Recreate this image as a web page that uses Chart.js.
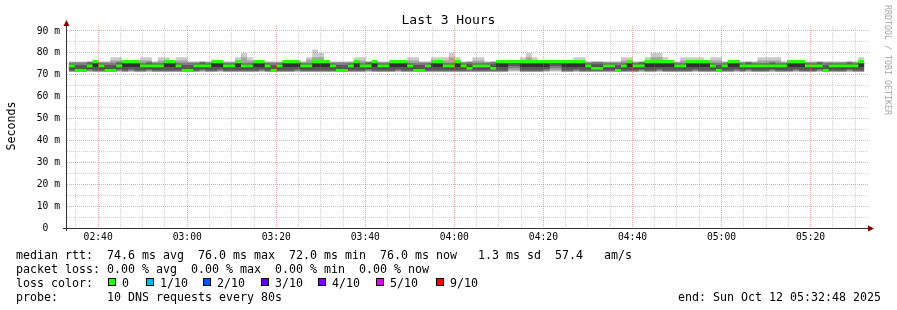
<!DOCTYPE html>
<html>
<head>
<meta charset="utf-8">
<title>Last 3 Hours</title>
<script src="https://cdn.jsdelivr.net/npm/chart.js@4.4.1/dist/chart.umd.min.js"></script>
<style>
  html, body { margin: 0; padding: 0; background: #fff; }
  #wrap { position: relative; width: 897px; height: 310px; overflow: hidden;
          font-family: 'DejaVu Sans Mono', monospace; color: #000; }
  #chart { position: absolute; left: 0; top: 0; }
  .txt { position: absolute; white-space: pre; font-size: 11.63px; line-height: 14px; }
  #title { position: absolute; left: 0; width: 897px; top: 12.5px; text-align: center;
           font-size: 13px; line-height: 13px; white-space: pre; }
  #unit { position: absolute; left: -29px; top: 119px; width: 80px; height: 14px; line-height: 14px;
          text-align: center; font-size: 11.63px; transform: rotate(-90deg); }
  #mark { position: absolute; left: 828px; top: 55px; width: 120px; height: 10px; line-height: 10px;
          text-align: center; font-size: 8.3px; color: #a8a8a8; transform: rotate(90deg); white-space: pre; }
  .box { position: absolute; width: 8px; height: 8px; box-sizing: border-box; border: 1px solid #000; }
</style>
</head>
<body>
<div id="wrap">
  <canvas id="chart" width="897" height="310"></canvas>
  <div id="title">Last 3 Hours</div>
  <div id="unit">Seconds</div>
  <div id="mark">RRDTOOL / TOBI OETIKER</div>
</div>
<script>
// time of the first 80 s step, in minutes after midnight (02:33:24)
const stepStart = 153.4;
const stepMinutes = 80 / 60;

// median rtt per step (ms)
const medianRtt = [
  74, 72, 72, 74, 76, 74, 72, 72, 74, 76,
  76, 76, 74, 74, 74, 74, 76, 76, 74, 72,
  72, 74, 74, 74, 76, 76, 74, 74, 76, 74,
  74, 76, 76, 74, 72, 74, 76, 76, 76, 74,
  74, 76, 76, 76, 74, 72, 72, 74, 76, 74,
  74, 76, 74, 74, 76, 76, 76, 74, 72, 72,
  74, 76, 76, 74, 74, 76, 74, 73, 74, 74,
  74, 73, 76, 76, 76, 76, 76, 76, 76, 76,
  76, 76, 76, 76, 76, 76, 76, 74, 73, 73,
  74, 74, 72, 74, 76, 74, 74, 76, 76, 76,
  76, 76, 74, 74, 76, 76, 76, 76, 74, 72,
  74, 76, 76, 74, 74, 74, 74, 74, 74, 74,
  74, 76, 76, 76, 74, 74, 74, 72, 74, 74,
  74, 74, 74, 76
];

// the 10 sorted pings of each step (ms), used for the smoke
const smokePings = [
  [71.5, 71.5, 71.5, 72, 73, 74.5, 75, 75.5, 76, 76],
  [71.5, 71.5, 71.5, 71.5, 72, 73, 74.5, 75.5, 76, 76],
  [71.5, 71.5, 71.5, 71.5, 72, 73, 74.5, 75.5, 76, 76],
  [71.5, 71.5, 72, 72.5, 73, 74.5, 75.5, 76, 76, 76],
  [71.5, 71.5, 71.5, 72, 73.5, 75.5, 76, 76, 76, 76],
  [71.5, 71.5, 71.5, 72, 73, 74.5, 75, 75.5, 76, 76],
  [71.5, 71.5, 71.5, 71.5, 72, 73, 74.5, 75.5, 76, 76],
  [71.5, 71.5, 71.5, 71.5, 72, 73, 74.5, 75.5, 76.5, 78],
  [71.5, 71.5, 72, 72.5, 73, 74.5, 75.5, 76, 76.5, 78],
  [71.5, 71.5, 71.5, 72, 73.5, 75.5, 76, 76, 76, 76],
  [71.5, 71.5, 72, 72.5, 73.5, 75.5, 76, 76, 76, 76],
  [71.5, 71.5, 71.5, 72, 73.5, 75.5, 76, 76, 76, 76],
  [71.5, 71.5, 71.5, 72, 73, 74.5, 75, 75.5, 76.5, 78],
  [71.5, 71.5, 72, 72.5, 73, 74.5, 75.5, 76, 76.5, 78],
  [71.5, 71.5, 71.5, 72, 73, 74.5, 75, 75.5, 76, 76],
  [71.5, 71.5, 71.5, 72, 73, 74.5, 75, 75.5, 76.5, 78],
  [71.5, 71.5, 71.5, 72, 73.5, 75.5, 76, 76, 76.5, 78],
  [71.5, 71.5, 71.5, 72, 73.5, 75.5, 76, 76, 76, 76],
  [71.5, 71.5, 71.5, 72, 73, 74.5, 75, 75.5, 76.5, 78],
  [71.5, 71.5, 71.5, 71.5, 72, 73, 74.5, 75.5, 76.5, 78],
  [71.5, 71.5, 71.5, 71.5, 72, 73, 74.5, 75.5, 76, 76],
  [71.5, 71.5, 71.5, 72, 73, 74.5, 75, 75.5, 76, 76],
  [71.5, 71.5, 72, 72.5, 73, 74.5, 75.5, 76, 76, 76],
  [71.5, 71.5, 71.5, 72, 73, 74.5, 75, 75.5, 76, 76],
  [71.5, 71.5, 71.5, 72, 73.5, 75.5, 76, 76, 76, 76],
  [71.5, 71.5, 72, 72.5, 73.5, 75.5, 76, 76, 76, 76],
  [71.5, 71.5, 71.5, 72, 73, 74.5, 75, 75.5, 76, 76],
  [71.5, 71.5, 71.5, 72, 73, 74.5, 75, 75.5, 76, 76],
  [71.5, 71.5, 71.5, 72, 73.5, 75.5, 76, 76, 76.5, 78],
  [71.5, 71.5, 71.5, 72, 73, 74.5, 75, 75.5, 78, 80],
  [71.5, 71.5, 71.5, 72, 73, 74.5, 75, 75.5, 76.5, 78],
  [71.5, 71.5, 71.5, 72, 73.5, 75.5, 76, 76, 76, 76],
  [71.5, 71.5, 72, 72.5, 73.5, 75.5, 76, 76, 76, 76],
  [71.5, 71.5, 71.5, 72, 73, 74.5, 75, 75.5, 76, 76],
  [71.5, 71.5, 71.5, 71.5, 72, 73, 74.5, 75.5, 76, 76],
  [71.5, 71.5, 71.5, 72, 73, 74.5, 75, 75.5, 76, 76],
  [71.5, 71.5, 71.5, 72, 73.5, 75.5, 76, 76, 76, 76],
  [71.5, 71.5, 71.5, 72, 73.5, 75.5, 76, 76, 76, 76],
  [71.5, 71.5, 72, 72.5, 73.5, 75.5, 76, 76, 76, 76],
  [71.5, 71.5, 71.5, 72, 73, 74.5, 75, 75.5, 76, 76],
  [71.5, 71.5, 71.5, 72, 73, 74.5, 75, 75.5, 77, 78],
  [71.5, 71.5, 71.5, 72, 73.5, 75.5, 76, 76, 78, 81.5],
  [71.5, 71.5, 71.5, 72, 73.5, 75.5, 76, 76, 78, 80],
  [71.5, 71.5, 71.5, 72, 73.5, 75.5, 76, 76, 76, 76],
  [71.5, 71.5, 71.5, 72, 73, 74.5, 75, 75.5, 76, 76],
  [71.5, 71.5, 71.5, 71.5, 72, 73, 74.5, 75.5, 76, 76],
  [71.5, 71.5, 71.5, 71.5, 72, 73, 74.5, 75.5, 76, 76],
  [71.5, 71.5, 71.5, 72, 73, 74.5, 75, 75.5, 76, 76],
  [71.5, 71.5, 71.5, 72, 73.5, 75.5, 76, 76, 76.5, 78],
  [71.5, 71.5, 71.5, 72, 73, 74.5, 75, 75.5, 76.5, 78],
  [71.5, 71.5, 72, 72.5, 73, 74.5, 75.5, 76, 76, 76],
  [71.5, 71.5, 71.5, 72, 73.5, 75.5, 76, 76, 76, 76],
  [71.5, 71.5, 71.5, 72, 73, 74.5, 75, 75.5, 76, 76],
  [71.5, 71.5, 71.5, 72, 73, 74.5, 75, 75.5, 76, 76],
  [71.5, 71.5, 71.5, 72, 73.5, 75.5, 76, 76, 76, 76],
  [71.5, 71.5, 72, 72.5, 73.5, 75.5, 76, 76, 76, 76],
  [71.5, 71.5, 71.5, 72, 73.5, 75.5, 76, 76, 76, 76],
  [71.5, 71.5, 71.5, 72, 73, 74.5, 75, 75.5, 76.5, 78],
  [71.5, 71.5, 71.5, 71.5, 72, 73, 74.5, 75.5, 76.5, 78],
  [71.5, 71.5, 71.5, 71.5, 72, 73, 74.5, 75.5, 76, 76],
  [71.5, 71.5, 71.5, 72, 73, 74.5, 75, 75.5, 76, 76],
  [71.5, 71.5, 71.5, 72, 73.5, 75.5, 76, 76, 76.5, 78],
  [71.5, 71.5, 71.5, 72, 73.5, 75.5, 76, 76, 76.5, 78],
  [71.5, 71.5, 71.5, 72, 73, 74.5, 75, 75.5, 76.5, 78],
  [71.5, 71.5, 71.5, 72, 73, 74.5, 75, 75.5, 78, 80],
  [71.5, 71.5, 71.5, 72, 73.5, 75.5, 76, 76, 76.5, 78],
  [71.5, 71.5, 71.5, 72, 73, 74.5, 75, 75.5, 76, 76],
  [71.5, 71.5, 71.5, 72, 72.5, 74, 75, 76, 76, 76],
  [71.5, 71.5, 71.5, 72, 73, 74.5, 75, 75.5, 76.5, 78],
  [71.5, 71.5, 71.5, 72, 73, 74.5, 75, 75.5, 76.5, 78],
  [71.5, 71.5, 71.5, 72, 73, 74.5, 75, 75.5, 76, 76],
  [71.5, 71.5, 71.5, 72, 72.5, 74, 75, 76, 76, 76],
  [71.5, 71.5, 71.5, 72, 73.5, 75.5, 76, 76, 76, 76],
  [71.5, 71.5, 71.5, 72, 73.5, 75.5, 76, 76, 76, 76],
  [71.5, 72, 73, 74, 75, 76, 76, 76, 76, 76],
  [71.5, 72, 73, 74, 75, 76, 76, 76, 76, 76],
  [71.5, 71.5, 71.5, 72, 73.5, 75.5, 76, 76, 76.5, 78],
  [71.5, 71.5, 71.5, 72, 73.5, 75.5, 76, 76, 78, 80],
  [71.5, 71.5, 71.5, 72, 73.5, 75.5, 76, 76, 76.5, 78],
  [71.5, 71.5, 71.5, 72, 73.5, 75.5, 76, 76, 76, 76],
  [71.5, 71.5, 72, 72.5, 73.5, 75.5, 76, 76, 76, 76],
  [71.5, 72, 73, 74, 75, 76, 76, 76, 76, 76],
  [71.5, 72, 73, 74, 75, 76, 76, 76, 76, 76],
  [71.5, 71.5, 71.5, 72, 73.5, 75.5, 76, 76, 76, 76],
  [71.5, 71.5, 71.5, 72, 73.5, 75.5, 76, 76, 76, 76],
  [71.5, 71.5, 72, 72.5, 73.5, 75.5, 76, 76, 76.5, 78],
  [71.5, 71.5, 71.5, 72, 73.5, 75.5, 76, 76, 76.5, 78],
  [71.5, 71.5, 71.5, 72, 73, 74.5, 75, 75.5, 76, 76],
  [71.5, 71.5, 71.5, 72, 72.5, 74, 75, 76, 76, 76],
  [71.5, 71.5, 71.5, 72, 72.5, 74, 75, 76, 76, 76],
  [71.5, 71.5, 71.5, 72, 73, 74.5, 75, 75.5, 76, 76],
  [71.5, 71.5, 71.5, 72, 73, 74.5, 75, 75.5, 76, 76],
  [71.5, 71.5, 71.5, 71.5, 72, 73, 74.5, 75.5, 76, 76],
  [71.5, 71.5, 71.5, 72, 73, 74.5, 75, 75.5, 76.5, 78],
  [71.5, 71.5, 71.5, 72, 73.5, 75.5, 76, 76, 76.5, 78],
  [71.5, 71.5, 71.5, 72, 73, 74.5, 75, 75.5, 76, 76],
  [71.5, 71.5, 72, 72.5, 73, 74.5, 75.5, 76, 76, 76],
  [71.5, 71.5, 71.5, 72, 73.5, 75.5, 76, 76, 76.5, 78],
  [71.5, 71.5, 71.5, 72, 73.5, 75.5, 76, 76, 78, 80],
  [71.5, 71.5, 72, 72.5, 73.5, 75.5, 76, 76, 78, 80],
  [71.5, 71.5, 71.5, 72, 73.5, 75.5, 76, 76, 76.5, 78],
  [71.5, 71.5, 71.5, 72, 73.5, 75.5, 76, 76, 76, 76],
  [71.5, 71.5, 71.5, 72, 73, 74.5, 75, 75.5, 76, 76],
  [71.5, 71.5, 71.5, 72, 73, 74.5, 75, 75.5, 76.5, 78],
  [71.5, 71.5, 71.5, 72, 73.5, 75.5, 76, 76, 76.5, 78],
  [71.5, 71.5, 72, 72.5, 73.5, 75.5, 76, 76, 76.5, 78],
  [71.5, 71.5, 71.5, 72, 73.5, 75.5, 76, 76, 76.5, 78],
  [71.5, 71.5, 71.5, 72, 73.5, 75.5, 76, 76, 76, 76],
  [71.5, 71.5, 71.5, 72, 73, 74.5, 75, 75.5, 76.5, 78],
  [71.5, 71.5, 71.5, 71.5, 72, 73, 74.5, 75.5, 76.5, 78],
  [71.5, 71.5, 71.5, 72, 73, 74.5, 75, 75.5, 76, 76],
  [71.5, 71.5, 71.5, 72, 73.5, 75.5, 76, 76, 76, 76],
  [71.5, 71.5, 72, 72.5, 73.5, 75.5, 76, 76, 76, 76],
  [71.5, 71.5, 71.5, 72, 73, 74.5, 75, 75.5, 76, 76],
  [71.5, 71.5, 72, 72.5, 73, 74.5, 75.5, 76, 76, 76],
  [71.5, 71.5, 71.5, 72, 73, 74.5, 75, 75.5, 76, 76],
  [71.5, 71.5, 71.5, 72, 73, 74.5, 75, 75.5, 76.5, 78],
  [71.5, 71.5, 71.5, 72, 73, 74.5, 75, 75.5, 76.5, 78],
  [71.5, 71.5, 72, 72.5, 73, 74.5, 75.5, 76, 76.5, 78],
  [71.5, 71.5, 71.5, 72, 73, 74.5, 75, 75.5, 76.5, 78],
  [71.5, 71.5, 71.5, 72, 73, 74.5, 75, 75.5, 76, 76],
  [71.5, 71.5, 71.5, 72, 73.5, 75.5, 76, 76, 76, 76],
  [71.5, 71.5, 72, 72.5, 73.5, 75.5, 76, 76, 76, 76],
  [71.5, 71.5, 71.5, 72, 73.5, 75.5, 76, 76, 76, 76],
  [71.5, 71.5, 71.5, 72, 73, 74.5, 75, 75.5, 76, 76],
  [71.5, 71.5, 71.5, 72, 73, 74.5, 75, 75.5, 76, 76],
  [71.5, 71.5, 72, 72.5, 73, 74.5, 75.5, 76, 76, 76],
  [71.5, 71.5, 71.5, 71.5, 72, 73, 74.5, 75.5, 76, 76],
  [71.5, 71.5, 71.5, 72, 73, 74.5, 75, 75.5, 76, 76],
  [71.5, 71.5, 71.5, 72, 73, 74.5, 75, 75.5, 76, 76],
  [71.5, 71.5, 71.5, 72, 73, 74.5, 75, 75.5, 76, 76],
  [71.5, 71.5, 72, 72.5, 73, 74.5, 75.5, 76, 76, 76],
  [71.5, 71.5, 71.5, 72, 73, 74.5, 75, 75.5, 76, 76],
  [71.5, 71.5, 71.5, 72, 73.5, 75.5, 76, 76, 76.5, 78]
];

// axis labels
const timeTickMinutes = [160, 180, 200, 220, 240, 260, 280, 300, 320];
const timeTickLabels = ['02:40', '03:00', '03:20', '03:40', '04:00', '04:20', '04:40', '05:00', '05:20'];
const yTickValues = [0, 10, 20, 30, 40, 50, 60, 70, 80, 90];
const yTickLabels = ['0  ', '10 m', '20 m', '30 m', '40 m', '50 m', '60 m', '70 m', '80 m', '90 m'];

// legend
const lossLabels = ['0', '1/10', '2/10', '3/10', '4/10', '5/10', '9/10'];
const lossColors = ['#26ff00', '#00b8ff', '#0059ff', '#5e00ff', '#7e00ff', '#dd00ff', '#ff0000'];
const smokeGrays = ['#cacaca', '#a4a4a4', '#7e7e7e', '#585858', '#323232'];
const legendLines = [
  'median rtt:  74.6 ms avg  76.0 ms max  72.0 ms min  76.0 ms now   1.3 ms sd  57.4   am/s',
  'packet loss: 0.00 % avg  0.00 % max  0.00 % min  0.00 % now',
  'loss color:',
  'probe:       10 DNS requests every 80s'
];
const endText = 'end: Sun Oct 12 05:32:48 2025';

// ---- layout ----
const wrap = document.getElementById('wrap');
const lineTops = [247.5, 261.5, 275.5, 289.5];
legendLines.forEach((t, i) => {
  const d = document.createElement('div');
  d.className = 'txt';
  d.style.left = '16px';
  d.style.top = lineTops[i] + 'px';
  d.textContent = t;
  wrap.appendChild(d);
});
const endDiv = document.createElement('div');
endDiv.className = 'txt';
endDiv.style.right = '16px';
endDiv.style.top = lineTops[3] + 'px';
endDiv.textContent = endText;
wrap.appendChild(endDiv);

const lossBoxLeft = [108, 146, 203, 261, 318, 376, 436];
lossLabels.forEach((lab, i) => {
  const b = document.createElement('div');
  b.className = 'box';
  b.style.left = lossBoxLeft[i] + 'px';
  b.style.top = '278px';
  b.style.background = lossColors[i];
  wrap.appendChild(b);
  const t = document.createElement('div');
  t.className = 'txt';
  t.style.left = (lossBoxLeft[i] + 14) + 'px';
  t.style.top = lineTops[2] + 'px';
  t.textContent = lab;
  wrap.appendChild(t);
});

// ---- chart ----
function stepPoints(values) {
  const pts = values.map((v, i) => ({ x: stepStart + i * stepMinutes, y: v }));
  pts.push({ x: stepStart + values.length * stepMinutes, y: values[values.length - 1] });
  return pts;
}

function band(lo, hi, color, order) {
  const base = { stepped: true, pointRadius: 0, borderWidth: 0, borderColor: 'transparent', order: order };
  return [
    Object.assign({ data: stepPoints(lo), fill: false }, base),
    Object.assign({ data: stepPoints(hi), fill: '-1', backgroundColor: color }, base)
  ];
}

const medianHalf = 0.7;
const datasets = band(medianRtt.map(v => v - medianHalf), medianRtt.map(v => v + medianHalf), lossColors[0], 0);
for (let k = 4; k >= 0; k--) {
  datasets.push(...band(smokePings.map(r => r[k]), smokePings.map(r => r[9 - k]), smokeGrays[k], 5 - k));
}

const majorGrid = 'rgba(240, 90, 90, 0.55)';
const minorGrid = 'rgba(130, 130, 130, 0.35)';
const tickFont = { family: 'DejaVu Sans Mono', size: 9.7 };

const xGrid = [];
for (let m = 155; m <= 330; m += 5) xGrid.push(m);
const yGrid = [];
for (let v = 0; v <= 90; v += 5) yGrid.push(v);

const rrdFrame = {
  id: 'rrdFrame',
  afterDraw(chart) {
    const { ctx, chartArea: a } = chart;
    ctx.save();
    ctx.strokeStyle = '#333';
    ctx.lineWidth = 1;
    ctx.beginPath();
    ctx.moveTo(a.left - 0.5, a.bottom + 3);
    ctx.lineTo(a.left - 0.5, a.top - 3);
    ctx.moveTo(a.left - 4, a.bottom + 0.5);
    ctx.lineTo(a.right, a.bottom + 0.5);
    ctx.stroke();
    ctx.fillStyle = '#7f0000';
    ctx.beginPath();
    ctx.moveTo(a.left - 0.5, a.top - 6);
    ctx.lineTo(a.left - 3.5, a.top);
    ctx.lineTo(a.left + 2.5, a.top);
    ctx.closePath();
    ctx.fill();
    ctx.beginPath();
    ctx.moveTo(a.right + 6, a.bottom + 0.5);
    ctx.lineTo(a.right, a.bottom - 2.5);
    ctx.lineTo(a.right, a.bottom + 3.5);
    ctx.closePath();
    ctx.fill();
    ctx.restore();
  }
};

new Chart(document.getElementById('chart'), {
  type: 'line',
  data: { datasets },
  plugins: [rrdFrame],
  options: {
    responsive: false,
    animation: false,
    events: [],
    layout: { padding: { top: 26, right: 29, bottom: 0, left: 0 } },
    plugins: { legend: { display: false }, tooltip: { enabled: false }, title: { display: false } },
    scales: {
      x: {
        type: 'linear',
        bounds: 'data',
        min: 153.0,
        max: 332.9,
        afterFit: s => { s.height = 82; },
        afterBuildTicks: s => { s.ticks = xGrid.map(v => ({ value: v })); },
        grid: {
          z: 1,
          drawTicks: false,
          color: c => (Math.round(c.tick.value) % 20 === 0 ? majorGrid : minorGrid)
        },
        border: { display: false, dash: [1, 1] },
        ticks: {
          autoSkip: false,
          maxRotation: 0,
          padding: 4,
          color: '#000',
          font: tickFont,
          callback: v => {
            const k = timeTickMinutes.findIndex(m => Math.abs(m - v) < 0.01);
            return k >= 0 ? timeTickLabels[k] : '';
          }
        }
      },
      y: {
        type: 'linear',
        bounds: 'data',
        min: 0,
        max: 92.28,
        afterFit: s => { s.width = 67; },
        afterBuildTicks: s => { s.ticks = yGrid.map(v => ({ value: v })); },
        grid: {
          z: 1,
          drawTicks: false,
          color: c => (Math.round(c.tick.value) % 10 === 0 ? majorGrid : minorGrid)
        },
        border: { display: false, dash: [1, 1] },
        ticks: {
          autoSkip: false,
          padding: 7,
          color: '#000',
          font: tickFont,
          callback: v => {
            const k = yTickValues.indexOf(Math.round(v));
            return (k >= 0 && Math.abs(v - yTickValues[k]) < 0.01) ? yTickLabels[k] : '';
          }
        }
      }
    }
  }
});
</script>
</body>
</html>
